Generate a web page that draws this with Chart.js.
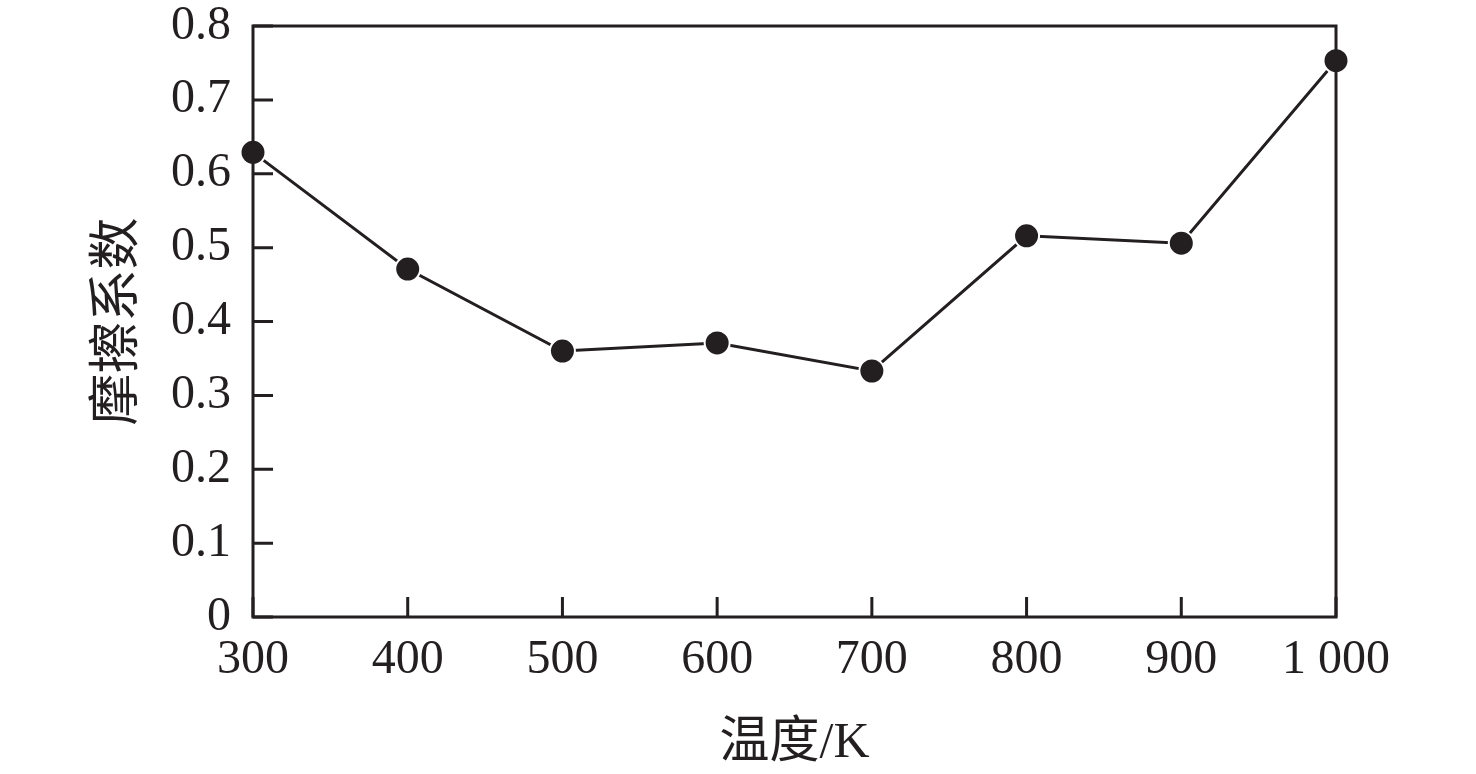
<!DOCTYPE html>
<html>
<head>
<meta charset="utf-8">
<script src="https://cdn.jsdelivr.net/npm/chart.js@4"></script>
<style>
  html, body { margin: 0; padding: 0; background: #fff; }
  #wrap { width: 1476px; height: 774px; }
</style>
</head>
<body>
<div id="wrap"><canvas id="c" width="1476" height="774"></canvas></div>
<script>
// data
const temps = [300, 400, 500, 600, 700, 800, 900, 1000];
const friction = [0.629, 0.471, 0.360, 0.371, 0.333, 0.516, 0.506, 0.753];
const xTitle = "温度/K";
const yTitle = "摩擦系数";

const ink = "#231f20";
const serif = "'Liberation Serif', 'Times New Roman', 'Noto Sans CJK SC', serif";
const cjk = "'Liberation Serif', 'Noto Sans CJK SC', serif";

// frame + inward ticks
const framePlugin = {
  id: "frame",
  afterDraw(chart) {
    const ctx = chart.ctx;
    const a = chart.chartArea;
    ctx.save();
    ctx.strokeStyle = ink;
    ctx.lineWidth = 3;
    ctx.strokeRect(a.left, a.top, a.right - a.left, a.bottom - a.top);
    const xs = chart.scales.x, ys = chart.scales.y;
    ctx.beginPath();
    xs.ticks.forEach((t, i) => {
      const px = xs.getPixelForTick(i);
      ctx.moveTo(px, a.bottom);
      ctx.lineTo(px, a.bottom - 20);
    });
    ys.ticks.forEach((t, i) => {
      const py = ys.getPixelForTick(i);
      ctx.moveTo(a.left, py);
      ctx.lineTo(a.left + 20, py);
    });
    ctx.stroke();
    ctx.restore();
  }
};

new Chart(document.getElementById("c"), {
  type: "line",
  data: {
    datasets: [{
      data: temps.map((t, i) => ({ x: t, y: friction[i] })),
      borderColor: ink,
      borderWidth: 3,
      pointRadius: 12.5,
      pointBackgroundColor: ink,
      pointBorderColor: "#fff",
      pointBorderWidth: 2,
      tension: 0,
      clip: false
    }]
  },
  options: {
    responsive: false,
    animation: false,
    layout: { padding: { top: 26, right: 140, left: 0, bottom: 0 } },
    plugins: { legend: { display: false }, tooltip: { enabled: false } },
    scales: {
      x: {
        type: "linear",
        min: 300, max: 1000,
        grid: { display: false, drawTicks: false },
        border: { display: false },
        ticks: {
          stepSize: 100,
          padding: 15,
          color: ink,
          font: { family: serif, size: 48 },
          callback: v => v >= 1000 ? "1 000" : String(v)
        },
        title: {
          display: true,
          text: xTitle,
          color: ink,
          font: { family: cjk, size: 50 },
          padding: { top: 6, bottom: 0 }
        },
        afterFit(s) { s.height = 157; s.paddingLeft = 0; s.paddingRight = 0; }
      },
      y: {
        min: 0, max: 0.8,
        grid: { display: false, drawTicks: false },
        border: { display: false },
        ticks: {
          stepSize: 0.1,
          padding: 22,
          color: ink,
          font: { family: serif, size: 48 },
          callback: v => v === 0 ? "0" : v.toFixed(1)
        },
        title: {
          display: true,
          text: yTitle,
          color: ink,
          font: { family: cjk, size: 52 },
          padding: { top: 88, bottom: 10 }
        },
        afterFit(s) { s.width = 253; s.paddingTop = 0; s.paddingBottom = 0; }
      }
    }
  },
  plugins: [framePlugin]
});
</script>
</body>
</html>
